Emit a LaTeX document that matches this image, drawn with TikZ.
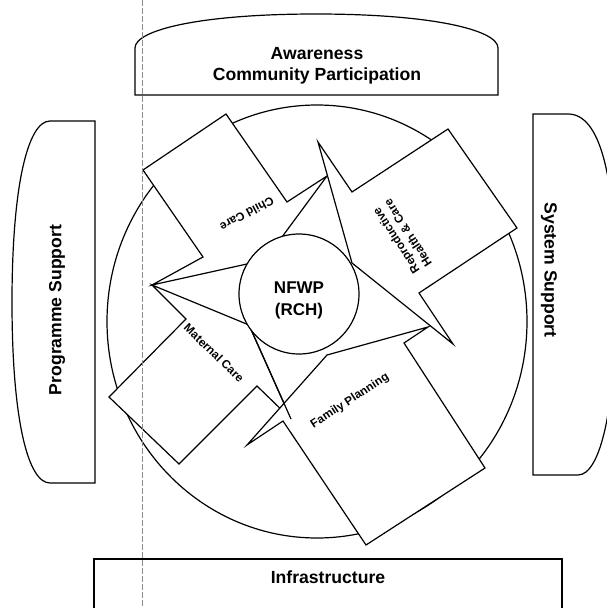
\documentclass[tikz,border=0pt]{standalone}
\usepackage{fontspec}
\setmainfont{Liberation Sans}
\begin{document}
\begin{tikzpicture}[x=1pt,y=-1pt,
  ln/.style={draw=black, line width=1.2pt, fill=white},
  big/.style={font=\bfseries\fontsize{17.6}{21}\selectfont, align=center, inner sep=0pt},
  small/.style={font=\bfseries\fontsize{11.8}{14}\selectfont, align=center, inner sep=0pt},
  fold/.style={draw=black!45, line width=0.5pt, dash pattern=on 6pt off 2pt}]
\useasboundingbox (0,0) rectangle (607,608);
\clip (0,0) rectangle (607,608);
\fill[white] (0,0) rectangle (607,608);
% outer frame shapes
\draw[ln] (135,95) -- (135,48) .. controls (135,30) and (200,14) .. (316,14) .. controls (432,14) and (498,30) .. (498,48) -- (498,95) -- cycle;
\draw[ln] (95,121) -- (50,121) .. controls (28,121) and (12,185) .. (12,302) .. controls (12,420) and (28,483) .. (50,483) -- (95,483) -- cycle;
\draw[ln] (533,114) -- (568,114) .. controls (600,114) and (616,175) .. (616,295) .. controls (616,410) and (600,475) .. (578,475) -- (533,475) -- cycle;
\draw[ln] (94,620) -- (94,559) -- (562,559) -- (562,620);
% big circle
\draw[ln] (317,321.5) ellipse [x radius=210pt, y radius=216.5pt];
% coordinates
\coordinate (A) at (143,170); \coordinate (B) at (226,114); \coordinate (C) at (287,202);
\coordinate (X) at (327,176); \coordinate (Pcc) at (265,260); \coordinate (L) at (152,285);
\coordinate (D) at (203,257);
\coordinate (T) at (318,142); \coordinate (E) at (352,192); \coordinate (F) at (448,129);
\coordinate (G) at (517,228); \coordinate (H) at (419,293); \coordinate (R) at (453,344);
\coordinate (V) at (352,263);
\coordinate (FP1) at (283,421); \coordinate (FP2) at (366,545); \coordinate (FP3) at (485,468);
\coordinate (FP4) at (404,343); \coordinate (tipR) at (428,327); \coordinate (Pfp) at (327,355);
\coordinate (B2) at (247,445);
\coordinate (M1) at (186,319); \coordinate (M2) at (109,397); \coordinate (M3) at (179,464);
\coordinate (M4) at (257,386); \coordinate (Bt) at (291,419); \coordinate (Pmc) at (249,325);
% callout shapes
\draw[ln] (M1) -- (M2) -- (M3) -- (M4) -- (Bt) -- (Pmc) -- (L) -- cycle;
\draw[ln] (FP1) -- (FP2) -- (FP3) -- (FP4) -- (tipR) -- (Pfp) -- (B2) -- cycle;
\draw[line width=1.2pt] (Pmc) -- (Bt);
\draw[ln] (A) -- (B) -- (C) -- (X) -- (Pcc) -- (L) -- (D) -- cycle;
\draw[ln] (T) -- (E) -- (F) -- (G) -- (H) -- (R) -- (V) -- cycle;
% inner circle
\draw[ln] (299,294) circle [radius=60pt];
% labels
\node[big] (aw) at (317,66) {Awareness\\Community Participation};
\node[big] (inf) at (328,577) {Infrastructure};
\node[big, rotate=90] (ps) at (57,310) {Programme Support};
\node[big, rotate=-90] (ss) at (549,270) {System Support};
\node[font=\bfseries\fontsize{17}{22}\selectfont, align=center, inner sep=0pt] (nf) at (299,300) {NFWP\\(RCH)};
\node[small, rotate=208] (cc) at (247,214) {Child Care};
\node[small, rotate=123] (rh) at (402,237) {Reproductive\\Health \& Care};
\node[small, rotate=-44] (mc) at (214,353) {Maternal Care};
\node[small, rotate=33] (fp) at (350,401) {Family Planning};
% scan fold line
\draw[fold] (142,0) -- (142,608);
\end{tikzpicture}
\end{document}
